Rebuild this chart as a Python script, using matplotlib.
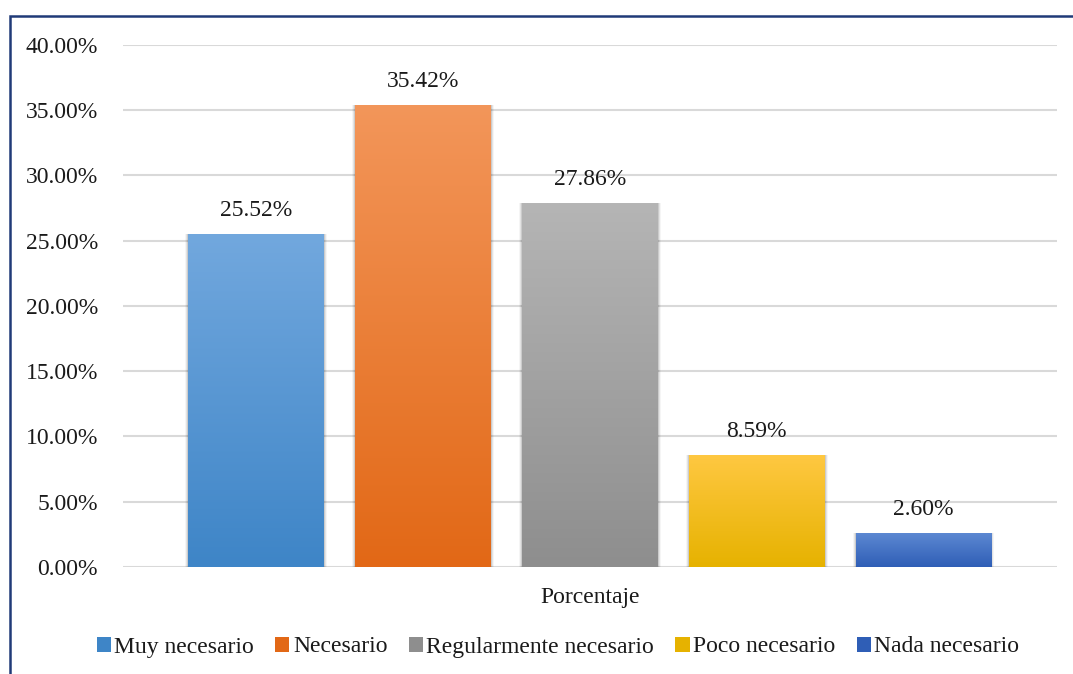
"""Bar chart: Porcentaje por categoria."""

import numpy as np
import matplotlib
matplotlib.use('Agg')
import matplotlib.pyplot as plt
from matplotlib.patches import Rectangle
from matplotlib.colors import LinearSegmentedColormap

# Data.
categorias = ['Muy necesario', 'Necesario', 'Regularmente necesario',
              'Poco necesario', 'Nada necesario']
valores = [25.52, 35.42, 27.86, 8.59, 2.60]
etiqueta_x = 'Porcentaje'
ticks_y = [0, 5, 10, 15, 20, 25, 30, 35, 40]

# Gradient colours (top, bottom) of each bar.
colores = [('#72A8DE', '#3E85C7'),
           ('#F3965A', '#E26816'),
           ('#B5B5B5', '#8E8E8E'),
           ('#FFC842', '#E6B200'),
           ('#5C88D2', '#2F5EB6')]

plt.rcParams['font.family'] = ['Liberation Serif', 'DejaVu Serif']
FS = 17

fig = plt.figure(figsize=(10.73, 6.74), dpi=100)
ax = fig.add_axes([0.1146, 0.1588, 0.8704, 0.7745])

x = np.arange(len(categorias))
ancho = 0.815

# Light gridlines behind the bars.
for t in ticks_y:
    ax.axhline(t, color='#D9D9D9', linewidth=1.5, zorder=0)

grad = np.linspace(1, 0, 256).reshape(-1, 1)
for i, (v, (c_top, c_bot)) in enumerate(zip(valores, colores)):
    # Soft shadow.
    for k, a in enumerate([0.10, 0.07, 0.04]):
        ax.add_patch(Rectangle((x[i] - ancho / 2 - 0.006 * (k + 1), -0.15 * (k + 1)),
                               ancho + 0.012 * (k + 1), v + 0.15 * (k + 1),
                               facecolor='black', alpha=a, edgecolor='none',
                               zorder=1))
    bar = ax.bar(x[i], v, width=ancho, color=c_bot, zorder=2,
                 label=categorias[i])[0]
    cmap = LinearSegmentedColormap.from_list('g%d' % i, [c_bot, c_top])
    im = ax.imshow(grad, cmap=cmap, aspect='auto', zorder=3,
                   extent=[x[i] - ancho / 2, x[i] + ancho / 2, 0, v],
                   vmin=0, vmax=1)
    im.set_clip_path(bar)
    ax.text(x[i], v + 1.0, '%.2f%%' % v, ha='center', va='bottom',
            fontsize=FS, color='#1a1a1a')

ax.set_xlim(-0.8, 4.8)
ax.set_ylim(0, 40)
ax.set_yticks(ticks_y)
ax.set_yticklabels(['%.2f%%' % t for t in ticks_y], fontsize=FS,
                   color='#1a1a1a')
ax.tick_params(axis='y', length=0, pad=18)
ax.set_xticks([])
for s in ax.spines.values():
    s.set_visible(False)

fig.text(590 / 1073, 1 - 597 / 674, etiqueta_x, ha='center', va='center',
         fontsize=FS, color='#1a1a1a')

handles = [Rectangle((0, 0), 1, 1, facecolor=c[1]) for c in colores]
fig.legend(handles, categorias, loc='center', ncol=5, frameon=False,
           bbox_to_anchor=(558 / 1073, 1 - 647 / 674), fontsize=FS,
           handlelength=0.6, handleheight=0.6, handletextpad=0.15,
           columnspacing=0.9, labelcolor='#1a1a1a')

# Chart border (cut at right and bottom, as in the source).
fig.patches.append(Rectangle((9.5 / 1073, -0.1), 1.2, 1.1 - 16 / 674,
                             transform=fig.transFigure, fill=False,
                             edgecolor='#203A78', linewidth=1.8))

fig.savefig('out.png', dpi=100)
